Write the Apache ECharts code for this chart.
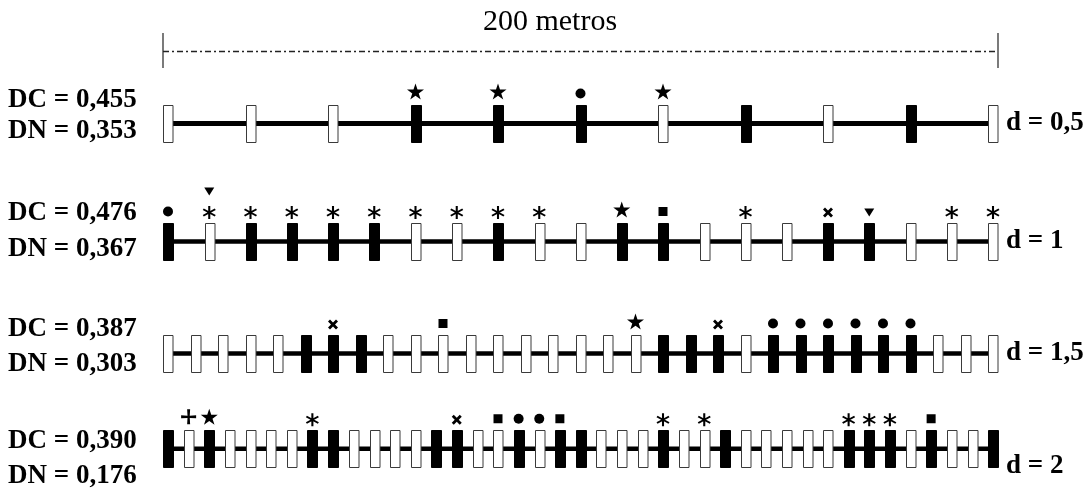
<!DOCTYPE html>
<html><head><meta charset="utf-8">
<script src="https://cdn.jsdelivr.net/npm/echarts@6.0.0/dist/echarts.min.js"></script>
<style>html,body{margin:0;padding:0;background:#fff}#c{width:1090px;height:491px}</style>
</head><body><div id="c"></div>
<script>
// ---- data ----
const transectLength = 200; // metros
const scaleLabel = '200 metros';
const rowD = ['0,5', '1', '1,5', '2'];
const rowDC = ['0,455', '0,476', '0,387', '0,390'];
const rowDN = ['0,353', '0,367', '0,303', '0,176'];
// 1 = black plot, 0 = white plot
const plots05 = [0,0,0,1,1,1,0,1,0,1,0];
const plots1  = [1,0,1,1,1,1,0,0,1,0,0,1,1,0,0,0,1,1,0,0,0];
const plots15 = [0,0,0,0,0,1,1,1,0,0,0,0,0,0,0,0,0,0,1,1,1,0,1,1,1,1,1,1,0,0,0];
const plots2  = [1,0,1,0,0,0,0,1,1,0,0,0,0,1,1,0,0,1,0,1,1,0,0,0,1,0,0,1,0,0,0,0,0,1,1,1,0,1,0,0,1];
// [plot index, marker]
const marks05 = [[3,'star'],[4,'star'],[5,'dot'],[6,'star']];
const marks1  = [[0,'dot'],[1,'asterisk'],[1,'triangle'],[2,'asterisk'],[3,'asterisk'],[4,'asterisk'],[5,'asterisk'],[6,'asterisk'],[7,'asterisk'],[8,'asterisk'],[9,'asterisk'],[11,'star'],[12,'square'],[14,'asterisk'],[16,'cross'],[17,'triangle'],[19,'asterisk'],[20,'asterisk']];
const marks15 = [[6,'cross'],[10,'square'],[17,'star'],[20,'cross'],[22,'dot'],[23,'dot'],[24,'dot'],[25,'dot'],[26,'dot'],[27,'dot']];
const marks2  = [[1,'plus'],[2,'star'],[7,'asterisk'],[14,'cross'],[16,'square'],[17,'dot'],[18,'dot'],[19,'square'],[24,'asterisk'],[26,'asterisk'],[33,'asterisk'],[34,'asterisk'],[35,'asterisk'],[37,'square']];

const rowsPlots = [plots05, plots1, plots15, plots2];
const rowsMarks = [marks05, marks1, marks15, marks2];

// ---- styling / layout ----
const rowCenters = [123.5, 241.5, 353.5, 466.5];
const gridLeft = 168, gridRight = 97;
const serifBold = {fontFamily: '"Liberation Serif","Times New Roman",serif', fontWeight: 'bold', fontSize: 27, fill: '#000'};

const STAR = 'path://M0,-10 L2.245,-3.09 L9.511,-3.09 L3.633,1.18 L5.878,8.09 L0,3.82 L-5.878,8.09 L-3.633,1.18 L-9.511,-3.09 L-2.245,-3.09Z';
const ASTER = 'path://M-0.9,-6 L0.9,-6 L0.9,6 L-0.9,6Z M-5.646,-2.221 L-4.746,-3.779 L5.646,2.221 L4.746,3.779Z M4.746,-3.779 L5.646,-2.221 L-4.746,3.779 L-5.646,2.221Z';
const CROSS = 'path://M-5,-3 L-3,-5 L0,-2 L3,-5 L5,-3 L2,0 L5,3 L3,5 L0,2 L-3,5 L-5,3 L-2,0Z';
const PLUS = 'path://M-1.6,-8 L1.6,-8 L1.2,-1.2 L8,-1.6 L8,1.6 L1.2,1.2 L1.6,8 L-1.6,8 L-1.2,1.2 L-8,1.6 L-8,-1.6 L-1.2,-1.2Z';
const TRI = 'path://M-5,-4 L5,-4 L0,4Z';
const markerStyle = {
  star:     {symbol: STAR, size: [17, 16], off: -32},
  dot:      {symbol: 'circle', size: 10, off: -30},
  square:   {symbol: 'rect', size: 9, off: -30},
  cross:    {symbol: CROSS, size: 10, off: -29},
  asterisk: {symbol: ASTER, size: [13, 13], off: -29},
  triangle: {symbol: TRI, size: [10, 8], off: -29},
  plus:     {symbol: PLUS, size: 15, off: -32}
};

const grids = [], xAxes = [], yAxes = [], series = [];
rowsPlots.forEach((plots, r) => {
  grids.push({left: gridLeft, right: gridRight, top: rowCenters[r] - 60, height: 120});
  xAxes.push({gridIndex: r, type: 'value', min: 0, max: transectLength, show: false});
  yAxes.push({gridIndex: r, type: 'value', min: -1, max: 1, show: false});
  const step = transectLength / (plots.length - 1);
  const pts = plots.map((b, i) => [i * step, 0, b]);
  series.push({
    type: 'line', xAxisIndex: r, yAxisIndex: r, data: pts.map(p => [p[0], p[1]]),
    symbol: 'none', lineStyle: {color: '#000', width: r === 0 ? 5 : 4.5}, z: 1, silent: true, animation: false
  });
  series.push({
    type: 'custom', xAxisIndex: r, yAxisIndex: r, data: pts, z: 2, animation: false, silent: true,
    renderItem: (params, api) => {
      const c = api.coord([api.value(0), api.value(1)]);
      const black = api.value(2) === 1;
      const w = black ? 10 : 9.5, h = 37;
      return {type: 'rect', shape: {x: Math.round(c[0] - w / 2) + 0.5, y: Math.round(c[1] - h / 2) + 0.5, width: w, height: h},
        style: {fill: black ? '#000' : '#fff', stroke: black ? '#000' : '#3a3a3a', lineWidth: 1}};
    }
  });
  const seen = {};
  const md = rowsMarks[r].map(([idx, kind]) => {
    const level = seen[idx] || 0; seen[idx] = level + 1;
    const ms = markerStyle[kind];
    return {value: [idx * step, 0], symbol: ms.symbol, symbolSize: ms.size,
      symbolOffset: [0, level ? -50 : ms.off]};
  });
  series.push({type: 'scatter', xAxisIndex: r, yAxisIndex: r, data: md, itemStyle: {color: '#000', opacity: 1},
    z: 3, silent: true, animation: false});
});

const chart = echarts.init(document.getElementById('c'), null, {renderer: 'canvas'});
chart.setOption({backgroundColor: '#fff', animation: false, grid: grids, xAxis: xAxes, yAxis: yAxes, series: series});

const x0 = chart.convertToPixel({gridIndex: 0}, [0, 0])[0] - 5;
const x1 = chart.convertToPixel({gridIndex: 0}, [transectLength, 0])[0] + 5;
const gfx = [
  {type: 'text', x: 550, y: 22, style: {text: scaleLabel, fontFamily: '"Liberation Serif","Times New Roman",serif', fontSize: 30, fill: '#000', align: 'center', verticalAlign: 'middle'}},
  {type: 'line', shape: {x1: x0, y1: 33, x2: x0, y2: 68}, style: {stroke: '#222', lineWidth: 1.2}},
  {type: 'line', shape: {x1: x1, y1: 33, x2: x1, y2: 68}, style: {stroke: '#222', lineWidth: 1.2}},
  {type: 'line', shape: {x1: x0, y1: 51.5, x2: x1, y2: 51.5}, style: {stroke: '#222', lineWidth: 1.3, lineDash: [6, 3, 2, 3]}}
];
const labelOffsets = [[-23, 8], [-28, 8], [-24, 11], [-25, 10]];
rowD.forEach((d, r) => {
  const cy = rowCenters[r];
  gfx.push({type: 'text', x: 8, y: cy + labelOffsets[r][0], style: Object.assign({text: 'DC = ' + rowDC[r], align: 'left', verticalAlign: 'middle'}, serifBold)});
  gfx.push({type: 'text', x: 8, y: cy + labelOffsets[r][1], style: Object.assign({text: 'DN = ' + rowDN[r], align: 'left', verticalAlign: 'middle'}, serifBold)});
  gfx.push({type: 'text', x: 1006, y: cy, style: Object.assign({text: 'd = ' + d, align: 'left', verticalAlign: 'middle'}, serifBold)});
});
chart.setOption({graphic: gfx});
</script></body></html>
